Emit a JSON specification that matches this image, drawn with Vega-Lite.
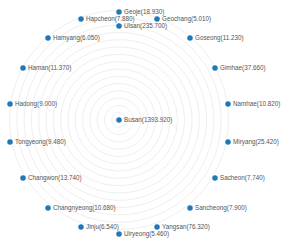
{
  "$schema": "https://vega.github.io/schema/vega-lite/v6.json",
  "width": 284,
  "height": 247,
  "autosize": "none",
  "padding": 0,
  "background": "white",
  "config": {"view": {"stroke": null}},
  "datasets": {
    "rings": [
      {"cx": 0, "cy": 0, "r": 7.3}, {"cx": 0, "cy": 0, "r": 14.6}, {"cx": 0, "cy": 0, "r": 21.9},
      {"cx": 0, "cy": 0, "r": 29.2}, {"cx": 0, "cy": 0, "r": 36.5}, {"cx": 0, "cy": 0, "r": 43.8},
      {"cx": 0, "cy": 0, "r": 51.1}, {"cx": 0, "cy": 0, "r": 58.4}, {"cx": 0, "cy": 0, "r": 65.7},
      {"cx": 0, "cy": 0, "r": 73.0}, {"cx": 0, "cy": 0, "r": 80.3}, {"cx": 0, "cy": 0, "r": 87.6},
      {"cx": 0, "cy": 0, "r": 94.9}, {"cx": 0, "cy": 0, "r": 102.2}, {"cx": 0, "cy": 0, "r": 109.5}
    ],
    "nodes": [
      {"name": "Busan", "x": 0, "y": 0, "label": "Busan(1393.920)"},
      {"name": "Geoje", "x": 0, "y": 108, "label": "Geoje(18.930)"},
      {"name": "Ulsan", "x": 0, "y": 94, "label": "Ulsan(235.700)"},
      {"name": "Geochang", "x": 38, "y": 101, "label": "Geochang(5.010)"},
      {"name": "Hapcheon", "x": -38, "y": 101, "label": "Hapcheon(7.880)"},
      {"name": "Goseong", "x": 71, "y": 82, "label": "Goseong(11.230)"},
      {"name": "Hamyang", "x": -71, "y": 82, "label": "Hamyang(6.050)"},
      {"name": "Gimhae", "x": 96, "y": 52, "label": "Gimhae(37.660)"},
      {"name": "Haman", "x": -96, "y": 52, "label": "Haman(11.370)"},
      {"name": "Namhae", "x": 109, "y": 16, "label": "Namhae(10.820)"},
      {"name": "Hadong", "x": -109, "y": 16, "label": "Hadong(9.000)"},
      {"name": "Miryang", "x": 109, "y": -22, "label": "Miryang(25.420)"},
      {"name": "Tongyeong", "x": -109, "y": -22, "label": "Tongyeong(9.480)"},
      {"name": "Sacheon", "x": 96, "y": -58, "label": "Sacheon(7.740)"},
      {"name": "Changwon", "x": -96, "y": -58, "label": "Changwon(13.740)"},
      {"name": "Sancheong", "x": 71, "y": -88, "label": "Sancheong(7.900)"},
      {"name": "Changnyeong", "x": -71, "y": -88, "label": "Changnyeong(10.680)"},
      {"name": "Yangsan", "x": 38, "y": -107, "label": "Yangsan(76.320)"},
      {"name": "Jinju", "x": -38, "y": -107, "label": "Jinju(6.540)"},
      {"name": "Uiryeong", "x": 0, "y": -114, "label": "Uiryeong(5.460)"}
    ]
  },
  "layer": [
    {
      "data": {"name": "rings"},
      "mark": {"type": "point", "shape": "circle", "filled": false, "stroke": "#ececec", "strokeWidth": 0.9, "opacity": 1},
      "encoding": {
        "x": {"field": "cx", "type": "quantitative", "scale": {"domain": [-119, 165], "nice": false, "zero": false}, "axis": null},
        "y": {"field": "cy", "type": "quantitative", "scale": {"domain": [-127, 120], "nice": false, "zero": false}, "axis": null},
        "size": {"field": "r", "type": "quantitative", "scale": {"type": "pow", "exponent": 2, "domain": [0, 110], "range": [0, 48400]}, "legend": null}
      }
    },
    {
      "data": {"name": "nodes"},
      "mark": {"type": "point", "shape": "circle", "filled": true, "color": "#1f78b9", "opacity": 1, "size": 30},
      "encoding": {
        "x": {"field": "x", "type": "quantitative", "axis": null},
        "y": {"field": "y", "type": "quantitative", "axis": null}
      }
    },
    {
      "data": {"name": "nodes"},
      "mark": {"type": "text", "align": "left", "baseline": "middle", "dx": 5, "fontSize": 6.3, "font": "Liberation Sans", "fill": "#555555"},
      "encoding": {
        "x": {"field": "x", "type": "quantitative", "axis": null},
        "y": {"field": "y", "type": "quantitative", "axis": null},
        "text": {"field": "label"}
      }
    }
  ]
}
